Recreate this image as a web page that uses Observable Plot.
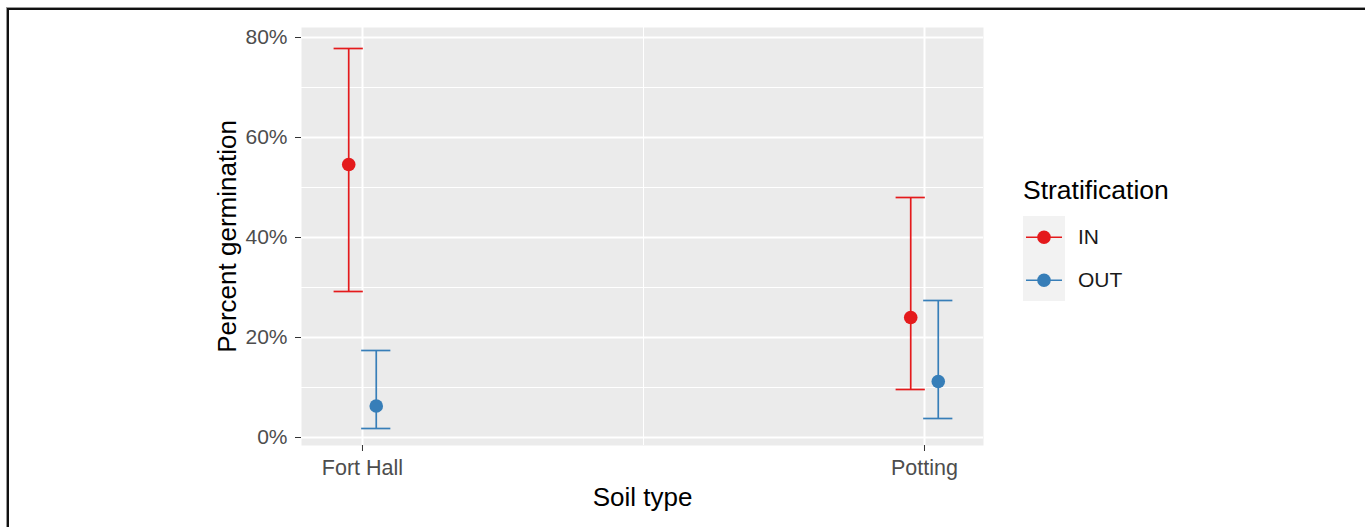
<!DOCTYPE html>
<html>
<head>
<meta charset="utf-8">
<script src="https://cdn.jsdelivr.net/npm/d3@7"></script>
<script src="https://cdn.jsdelivr.net/npm/@observablehq/plot@0.6"></script>
<style>
  html, body { margin: 0; padding: 0; background: #fff; }
  body { width: 1365px; height: 527px; position: relative; overflow: hidden; font-family: "Liberation Sans", Arial, sans-serif; }
  #frameLine { position: absolute; left: 7px; top: 8px; right: -10px; bottom: -10px; border-top: 2px solid #111; border-left: 2px solid #111; box-shadow: -1px -1px 0 #999; pointer-events: none; }
  #chart { position: absolute; left: 0; top: 0; }
  #chart g[aria-label="y-axis label"], #chart g[aria-label="x-axis label"] { font-size: 26px; fill: #000; }
  #legend { position: absolute; left: 1023px; top: 175px; }
  #legend .title { font-size: 26.5px; color: #000; line-height: 30px; height: 41px; }
  #legend .row { display: flex; align-items: center; height: 42.5px; }
  #legend .key { width: 42px; height: 42.5px; background: #F2F2F2; }
  #legend .lab { font-size: 21px; color: #1a1a1a; margin-left: 13px; }
</style>
</head>
<body>
<div id="chart"></div>
<div id="legend"></div>
<div id="frameLine"></div>
<script>
// ---- data ----
const soils = ["Fort Hall", "Potting"];
const strata = ["IN", "OUT"];
const colors = ["#E41A1C", "#377EB8"];
const meanIN  = [54.6, 24.0];
const lowIN   = [29.2, 9.6];
const highIN  = [77.8, 48.0];
const meanOUT = [6.3, 11.2];
const lowOUT  = [1.8, 3.8];
const highOUT = [17.4, 27.4];
const yTicks = [0, 20, 40, 60, 80];

// ---- build table ----
const dodge = 0.0245;   // horizontal offset of the two groups
const capHalf = 0.026;  // half width of error bar caps
const series = {IN: [meanIN, lowIN, highIN], OUT: [meanOUT, lowOUT, highOUT]};
const rows = [];
strata.forEach((s, si) => {
  soils.forEach((soil, i) => {
    const [m, lo, hi] = series[s];
    rows.push({soil, strat: s, pos: i + 1 + (si === 0 ? -dodge : dodge), mean: m[i], low: lo[i], high: hi[i]});
  });
});
const xMajor = soils.map((_, i) => i + 1);
const xMinor = xMajor.slice(1).map((v, i) => (v + xMajor[i]) / 2);
const yMinor = yTicks.slice(1).map((v, i) => (v + yTicks[i]) / 2);

const colorScale = {domain: strata, range: colors};

const chart = Plot.plot({
  width: 1365,
  height: 527,
  marginLeft: 301,
  marginRight: 382,
  marginTop: 27,
  marginBottom: 82,
  style: {fontFamily: "'Liberation Sans', Arial, sans-serif", background: "transparent", overflow: "visible"},
  x: {type: "linear", domain: [0.8915, 2.105]},
  y: {domain: [-1.6, 82]},
  color: colorScale,
  marks: [
    Plot.frame({fill: "#EBEBEB", stroke: null}),
    Plot.ruleY(yMinor, {stroke: "#fff", strokeWidth: 1}),
    Plot.ruleX(xMinor, {stroke: "#fff", strokeWidth: 1}),
    Plot.ruleY(yTicks, {stroke: "#fff", strokeWidth: 2}),
    Plot.ruleX(xMajor, {stroke: "#fff", strokeWidth: 2}),
    Plot.axisY(yTicks, {tickFormat: d => d + "%", tickSize: 6, tickPadding: 8, fontSize: 21, fill: "#4D4D4D", stroke: "#333", label: "Percent germination", labelArrow: "none", labelAnchor: "center", labelOffset: 84}),
    Plot.axisX(xMajor, {tickFormat: d => soils[d - 1], tickSize: 6, tickPadding: 8, fontSize: 21.5, fill: "#4D4D4D", stroke: "#333", label: "Soil type", labelArrow: "none", labelAnchor: "center", labelOffset: 60}),
    Plot.ruleX(rows, {x: "pos", y1: "low", y2: "high", stroke: "strat", strokeWidth: 1.7}),
    Plot.ruleY(rows, {y: "low", x1: d => d.pos - capHalf, x2: d => d.pos + capHalf, stroke: "strat", strokeWidth: 1.7}),
    Plot.ruleY(rows, {y: "high", x1: d => d.pos - capHalf, x2: d => d.pos + capHalf, stroke: "strat", strokeWidth: 1.7}),
    Plot.dot(rows, {x: "pos", y: "mean", fill: "strat", r: 6.8, stroke: null})
  ]
});
document.getElementById("chart").appendChild(chart);

// ---- legend ----
const legend = document.getElementById("legend");
const t = document.createElement("div");
t.className = "title";
t.textContent = "Stratification";
legend.appendChild(t);
strata.forEach((s, i) => {
  const row = document.createElement("div");
  row.className = "row";
  row.innerHTML = `<div class="key"><svg width="42" height="42.5"><line x1="3" x2="39" y1="21.25" y2="21.25" stroke="${colors[i]}" stroke-width="1.7"/><circle cx="21" cy="21.25" r="6.8" fill="${colors[i]}"/></svg></div><div class="lab">${s}</div>`;
  legend.appendChild(row);
});
</script>
</body>
</html>
